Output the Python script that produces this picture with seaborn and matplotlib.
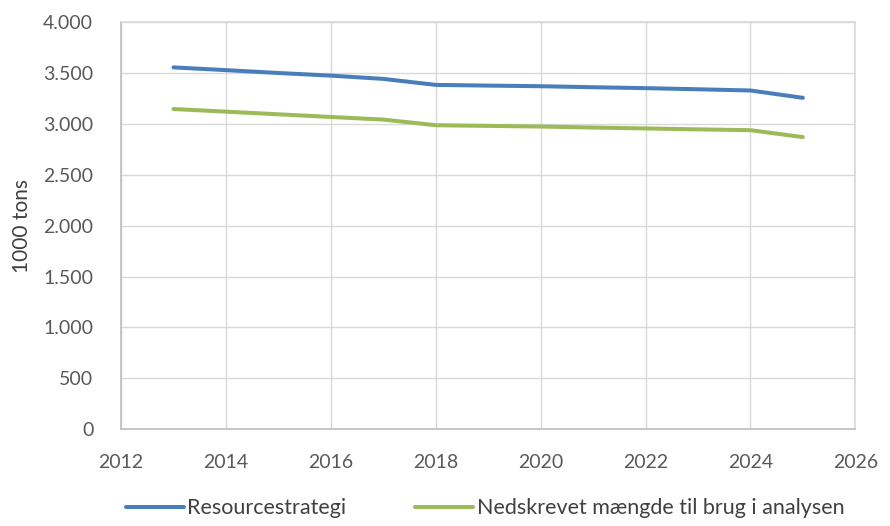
import matplotlib
matplotlib.use("Agg")
import matplotlib.pyplot as plt
import seaborn as sns
import pandas as pd
from matplotlib.ticker import FuncFormatter, MultipleLocator
from matplotlib.lines import Line2D

years = [2013, 2014, 2015, 2016, 2017, 2018, 2019, 2020, 2021, 2022, 2023, 2024, 2025]
resourcestrategi = [3555, 3528, 3500, 3474, 3442, 3383, 3376, 3370, 3360, 3351, 3340, 3328, 3256]
nedskrevet = [3146, 3120, 3094, 3068, 3042, 2987, 2980, 2974, 2964, 2955, 2946, 2938, 2870]
series_names = ["Resourcestrategi", "Nedskrevet mængde til brug i analysen"]
colors = ["#4a7ebb", "#9bbb59"]

df = pd.DataFrame({"year": years * 2,
                   "value": resourcestrategi + nedskrevet,
                   "series": [series_names[0]] * len(years) + [series_names[1]] * len(years)})

sns.set_theme(style="white")
plt.rcParams["font.family"] = ["Lato", "DejaVu Sans"]

fig = plt.figure(figsize=(8.9, 5.26), dpi=100)
ax = fig.add_axes([0.136, 0.184, 0.825, 0.774])

sns.lineplot(data=df, x="year", y="value", hue="series", palette=colors,
             linewidth=2.9, ax=ax, legend=False)

ax.set_xlim(2012, 2026)
ax.set_ylim(0, 4000)
ax.xaxis.set_major_locator(MultipleLocator(2))
ax.yaxis.set_major_locator(MultipleLocator(500))
ax.yaxis.set_major_formatter(FuncFormatter(lambda v, p: f"{int(v):,}".replace(",", ".")))
ax.grid(True, color="#d9d9d9", linewidth=1)
ax.set_axisbelow(True)
for s in ["top", "right"]:
    ax.spines[s].set_color("#d9d9d9")
for s in ["left", "bottom"]:
    ax.spines[s].set_color("#bfbfbf")
ax.tick_params(axis="both", length=0, labelsize=14, colors="#595959")
ax.tick_params(axis="y", pad=20)
ax.tick_params(axis="x", pad=18)
ax.set_xlabel("")
ax.set_ylabel("1000 tons", fontsize=15, color="#404040", labelpad=8)

handles = [Line2D([0], [0], color=c, linewidth=2.9) for c in colors]
fig.legend(handles, series_names, loc="lower center", bbox_to_anchor=(0.545, -0.022),
           ncol=2, frameon=False, fontsize=15.5, handlelength=2.7, handletextpad=0.15,
           columnspacing=3.2, labelcolor="#404040")

fig.savefig("out.png", dpi=100)
